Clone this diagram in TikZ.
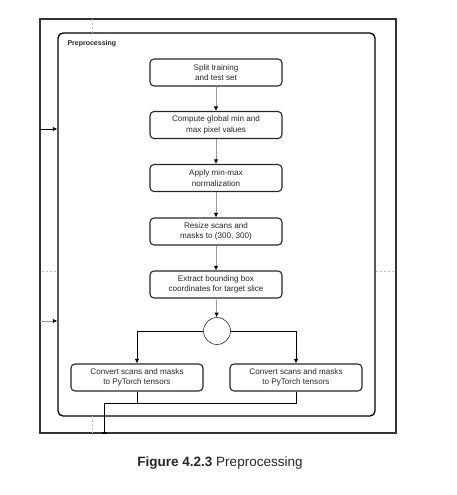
\documentclass[tikz,border=0pt]{standalone}
\usepackage{fontspec}
\setmainfont{Liberation Sans}
\usetikzlibrary{arrows.meta}

\begin{document}
\begin{tikzpicture}[x=1pt,y=-1pt,
  stepbox/.style={draw=black!85,line width=1.1pt,rounded corners=4pt,
    minimum width=132pt,minimum height=27pt,align=center,
    font=\fontsize{8.1}{10.5}\selectfont,text=black!85},
  flow/.style={-{Latex[length=4.5pt,width=4.5pt]},line width=0.8pt},
  grayflow/.style={draw=black!40,-{Latex[length=4.5pt,width=4.5pt,color=black]},line width=0.8pt},
  guide/.style={draw=black!25,dashed,dash pattern=on 2pt off 2pt,line width=0.5pt}]
\useasboundingbox (0,0) rectangle (456,495);
% lane and group
\node[draw=black!80,line width=1.3pt,minimum width=356pt,minimum height=414pt,inner sep=0pt] (lane) at (218,226) {};
\node[draw,line width=1.3pt,rounded corners=5pt,minimum width=317pt,minimum height=383pt,inner sep=0pt] (pre) at (216.5,224.5) {};
\node[anchor=west,font=\bfseries\fontsize{7}{8}\selectfont,text=black!85] (prelabel) at (64,44) {Preprocessing};
% guides
\draw[guide] (92,19) -- (92,33);
\draw[guide] (92,416) -- (92,433);
\draw[guide] (42,271) -- (57,271);
\draw[guide] (376,271) -- (394,271);
% steps
\node[stepbox] (split) at (216,72.5) {Split training\\and test set};
\node[stepbox] (minmax) at (216,125) {Compute global min and\\max pixel values};
\node[stepbox] (norm) at (216,178) {Apply min-max\\normalization};
\node[stepbox] (resize) at (216,231.5) {Resize scans and\\masks to (300, 300)};
\node[stepbox] (bbox) at (216,284.5) {Extract bounding box\\coordinates for target slice};
\node[draw=black!80,circle,minimum size=27pt,line width=0.6pt,inner sep=0pt] (fork) at (217,331) {};
\node[stepbox] (convl) at (137,377.5) {Convert scans and masks\\to PyTorch tensors};
\node[stepbox] (convr) at (296,377.5) {Convert scans and masks\\to PyTorch tensors};
% flows
\draw[grayflow] (split) -- (minmax);
\draw[grayflow] (minmax) -- (norm);
\draw[grayflow] (norm) -- (resize);
\draw[grayflow] (resize) -- (bbox);
\draw[grayflow] (bbox) -- (fork);
\draw[flow] (fork.west) -| (convl);
\draw[flow] (fork.east) -| (convr);
\coordinate (merge) at (104,403);
\draw[line width=0.8pt] (convl.south) -- (convl.south |- merge);
\draw[line width=0.8pt,-{Bar[width=5pt,line width=1.4pt]}] (convr.south) |- (merge) -- (merge |- lane.south);
% inputs
\coordinate (inA) at (40,129);
\coordinate (inB) at (40,321);
\draw[flow] (inA) -- (inA -| pre.west);
\draw[grayflow] (inB) -- (inB -| pre.west);
% caption
\node[font=\fontsize{13.5}{16}\selectfont,text=black!85] (caption) at (220,463) {\textbf{Figure 4.2.3} Preprocessing};
\end{tikzpicture}
\end{document}
